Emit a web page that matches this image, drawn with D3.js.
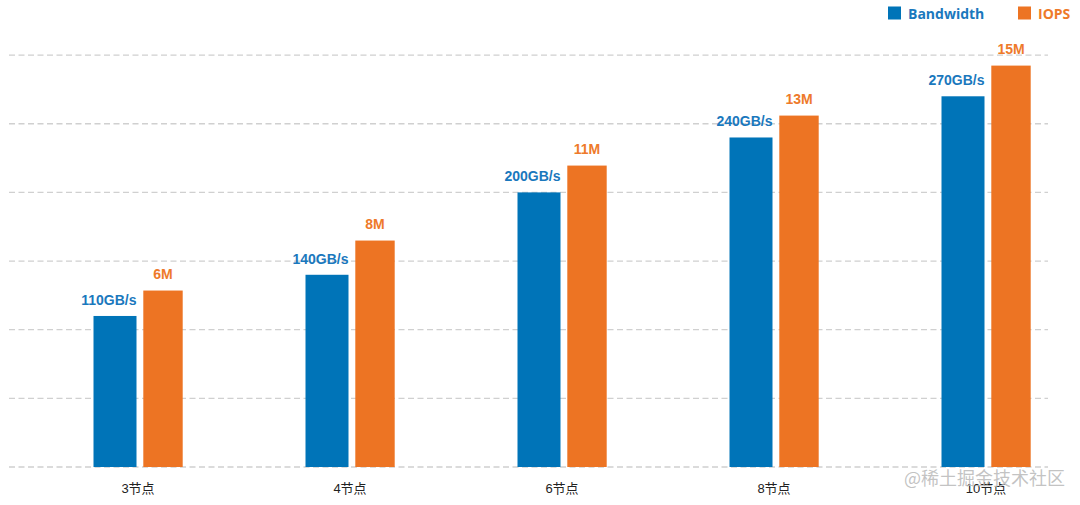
<!DOCTYPE html>
<html>
<head>
<meta charset="utf-8">
<script src="https://cdn.jsdelivr.net/npm/d3@7/dist/d3.min.js"></script>
<style>
  html, body { margin: 0; padding: 0; background: #fff; }
  svg { display: block; }
</style>
</head>
<body>
<svg id="chart" width="1080" height="505"></svg>
<script>
const categories = ["3节点", "4节点", "6节点", "8节点", "10节点"];
const bandwidth = [110, 140, 200, 240, 270];
const iops = [6, 8, 11, 13, 15];
const gridTicks = [0, 50, 100, 150, 200, 250, 300];
const seriesNames = ["Bandwidth", "IOPS"];

const BLUE = "#0074b8";
const ORANGE = "#ed7423";
const BLUE_TXT = "#1a78bd";
const ORANGE_TXT = "#ee7a2a";

const svg = d3.select("#chart");
const baseY = 467, topY = 55.1;

const x = d3.scalePoint().domain(categories).range([138, 986]);
const y = d3.scaleLinear().domain([0, 300]).range([baseY, topY]);
const y2 = d3.scaleLinear().domain([-1.06, 15.42]).range([baseY, topY]);

// grid
svg.append("g").selectAll("line").data(gridTicks).join("line")
  .attr("x1", 9).attr("x2", 1048)
  .attr("y1", d => y(d)).attr("y2", d => y(d))
  .attr("stroke", "#d0d0d0").attr("stroke-width", 1.3)
  .attr("stroke-dasharray", "6,3.5");

// bars
const g = svg.append("g");
g.selectAll("rect.bw").data(categories).join("rect")
  .attr("class", "bw")
  .attr("x", d => x(d) - 44.5).attr("width", 43)
  .attr("y", (d, i) => y(bandwidth[i]))
  .attr("height", (d, i) => baseY - y(bandwidth[i]))
  .attr("fill", BLUE);
g.selectAll("rect.io").data(categories).join("rect")
  .attr("class", "io")
  .attr("x", d => x(d) + 5.3).attr("width", 39.4)
  .attr("y", (d, i) => y2(iops[i]))
  .attr("height", (d, i) => baseY - y2(iops[i]))
  .attr("fill", ORANGE);

// value labels
g.selectAll("text.bwl").data(categories).join("text")
  .attr("class", "bwl")
  .attr("x", d => x(d) - 1.5)
  .attr("y", (d, i) => y(bandwidth[i]) - 11)
  .attr("text-anchor", "end")
  .attr("font-family", "Liberation Sans, Arial, sans-serif")
  .attr("font-weight", "bold").attr("font-size", 14)
  .attr("fill", BLUE_TXT)
  .text((d, i) => bandwidth[i] + "GB/s");
g.selectAll("text.iol").data(categories).join("text")
  .attr("class", "iol")
  .attr("x", d => x(d) + 25)
  .attr("y", (d, i) => y2(iops[i]) - 12)
  .attr("text-anchor", "middle")
  .attr("font-family", "Liberation Sans, Arial, sans-serif")
  .attr("font-weight", "bold").attr("font-size", 14)
  .attr("fill", ORANGE_TXT)
  .text((d, i) => iops[i] + "M");

// x axis labels
svg.append("g").selectAll("text").data(categories).join("text")
  .attr("x", d => x(d)).attr("y", 493)
  .attr("text-anchor", "middle")
  .attr("font-family", "Liberation Sans, 'Noto Sans CJK SC', sans-serif")
  .attr("font-size", 13).attr("fill", "#222")
  .text(d => d);

// legend
const legend = [
  {name: seriesNames[0], color: BLUE, txt: BLUE_TXT, x: 888},
  {name: seriesNames[1], color: ORANGE, txt: ORANGE_TXT, x: 1018}
];
const lg = svg.append("g").selectAll("g").data(legend).join("g");
lg.append("rect").attr("x", d => d.x).attr("y", 6.5).attr("width", 13).attr("height", 13)
  .attr("fill", d => d.color);
lg.append("text").attr("x", d => d.x + 20).attr("y", 18.5)
  .attr("font-family", "'Open Sans', sans-serif").attr("font-weight", "bold")
  .attr("font-size", 14).attr("fill", d => d.txt)
  .text(d => d.name);

// watermark
svg.append("text").attr("x", 1065).attr("y", 484.5).attr("text-anchor", "end")
  .attr("font-family", "'Noto Sans CJK SC', sans-serif").attr("font-size", 18)
  .attr("fill", "#b8b8b8").attr("fill-opacity", 0.85)
  .text("@稀土掘金技术社区");
</script>
</body>
</html>
